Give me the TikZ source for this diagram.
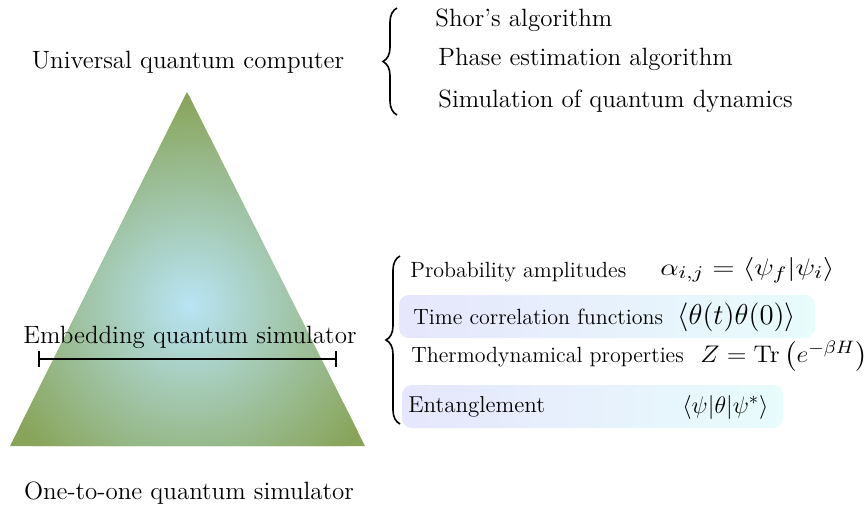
\documentclass[tikz,border=0pt]{standalone}
\usepackage{amsmath,amssymb}
\usepackage{graphicx}
\usepackage{xcolor}
\usepackage{tikz}
\usetikzlibrary{positioning,calc,decorations.pathreplacing}

\definecolor{olivegreen}{RGB}{136,164,88}
\definecolor{skyglow}{RGB}{184,228,244}
\definecolor{lavender}{RGB}{230,230,252}
\definecolor{paleaqua}{RGB}{232,252,252}

\tikzset{
  mainlabel/.style={font=\fontsize{12.5}{15}\selectfont},
  sidelabel/.style={anchor=west, inner sep=0pt, font=\fontsize{11}{13}\selectfont},
  formula/.style={anchor=west, inner sep=0pt, font=\fontsize{12.5}{15}\selectfont},
  hilite/.style={rounded corners=5pt, left color=lavender, right color=paleaqua, draw=none},
  bracebar/.style={line width=0.8pt, decorate, decoration={brace, amplitude=7pt}}
}

\begin{document}
\begin{tikzpicture}[x=0.5pt, y=-0.5pt]
    \useasboundingbox (0,0) rectangle (868,511);

    % Triangle
    \fill[olivegreen] (187,92) -- (10,446) -- (365,446) -- cycle;
    \begin{scope}
      \clip (187,92) -- (10,446) -- (365,446) -- cycle;
      \shade[inner color=skyglow, outer color=olivegreen] (190,305) circle (105pt);
    \end{scope}

    % Levels
    \node[mainlabel] (univ) at (188,62) {Universal quantum computer};
    \node[mainlabel] (embed) at (190,337) {Embedding quantum simulator};
    \node[mainlabel] (onetoone) at (189,493) {One-to-one quantum simulator};

    \coordinate (barL) at (38,359);
    \coordinate (barR) at (337,359);
    \draw[|-|, line width=1pt] (barL) -- (barR);

    % Upper list
    \coordinate (topA) at (397,8);
    \coordinate (topB) at (397,115);
    \draw[bracebar] (topB) -- (topA);
    \node[sidelabel, font=\fontsize{12.5}{15}\selectfont] (shor) at (435,20) {Shor's algorithm};
    \node[sidelabel, font=\fontsize{12.5}{15}\selectfont] (phase) at (438,59) {Phase estimation algorithm};
    \node[sidelabel, font=\fontsize{12.5}{15}\selectfont] (dyn) at (438,101) {Simulation of quantum dynamics};

    % Lower list
    \shade[hilite] (399,295) rectangle (815,338);
    \shade[hilite] (402,385) rectangle (783,428);

    \coordinate (lowA) at (400,256);
    \coordinate (lowB) at (400,424);
    \draw[bracebar] (lowB) -- (lowA);

    \node[sidelabel] (prob) at (410,272) {Probability amplitudes};
    \node[formula] (probeq) at (660,270) {\scalebox{1.22}[1]{$\alpha_{i,j} = \langle \psi_f | \psi_i \rangle$}};
    \node[sidelabel] (corr) at (413,317) {Time correlation functions};
    \node[formula, font=\fontsize{15.5}{17}\selectfont] (correq) at (677,317) {$\langle \theta(t) \theta(0) \rangle$};
    \node[sidelabel] (thermo) at (411,357) {Thermodynamical properties};
    \node[formula] (thermoeq) at (700,356) {\scalebox{1.08}[1]{$Z = \mathrm{Tr}\left(e^{-\beta H}\right)$}};
    \node[sidelabel, font=\fontsize{11.5}{13}\selectfont] (ent) at (408,407) {Entanglement};
    \node[formula] (enteq) at (682,407) {$\langle \psi | \theta | \psi^{*} \rangle$};
\end{tikzpicture}
\end{document}
